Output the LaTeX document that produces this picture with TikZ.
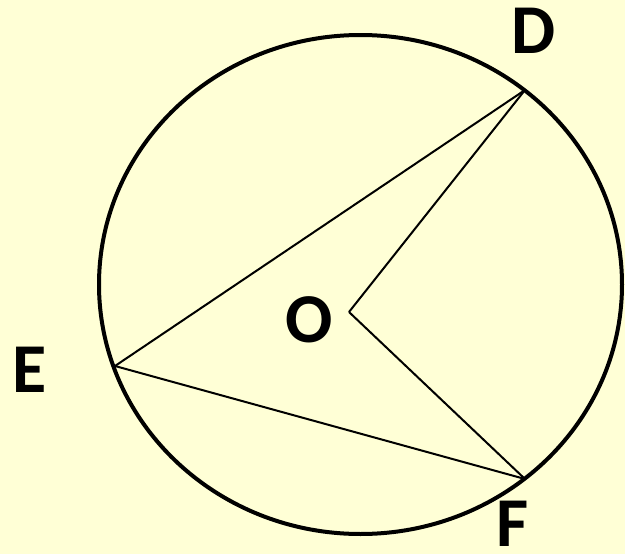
\documentclass[tikz,border=0pt]{standalone}
\usepackage{fontspec}
\setmainfont{Carlito}
\usepackage{tikz}
\usetikzlibrary{positioning}
\definecolor{paper}{RGB}{255,255,214}
\tikzset{
  rim/.style={draw=black, line width=4pt},
  chord/.style={draw=black, line width=2pt, line join=round},
  pt-label/.style={font=\fontsize{70}{70}\selectfont\bfseries, inner sep=0pt}
}

\begin{document}
\begin{tikzpicture}[x=1pt, y=-1pt]
  % Background and frame
  \fill[paper] (0,0) rectangle (625,554);
  \useasboundingbox (0,0) rectangle (625,554);

  % Circle
  \draw[rim] (360.5,284.5) ellipse [x radius=261.5, y radius=249.5];

  % Points on the circle and the centre
  \coordinate (D) at (525,90);
  \coordinate (E) at (115,366);
  \coordinate (F) at (525,479);
  \coordinate (O) at (349,312);

  % Chords and radii
  \draw[chord] (E) -- (D);
  \draw[chord] (D) -- (O);
  \draw[chord] (O) -- (F);
  \draw[chord] (F) -- (E);

  % Labels
  \node[pt-label] (lblD) at (534,31) {D};
  \node[pt-label] (lblE) at (30,370) {E};
  \node[pt-label] (lblF) at (513,524) {F};
  \node[pt-label] (lblO) at (309,320) {O};
\end{tikzpicture}
\end{document}
